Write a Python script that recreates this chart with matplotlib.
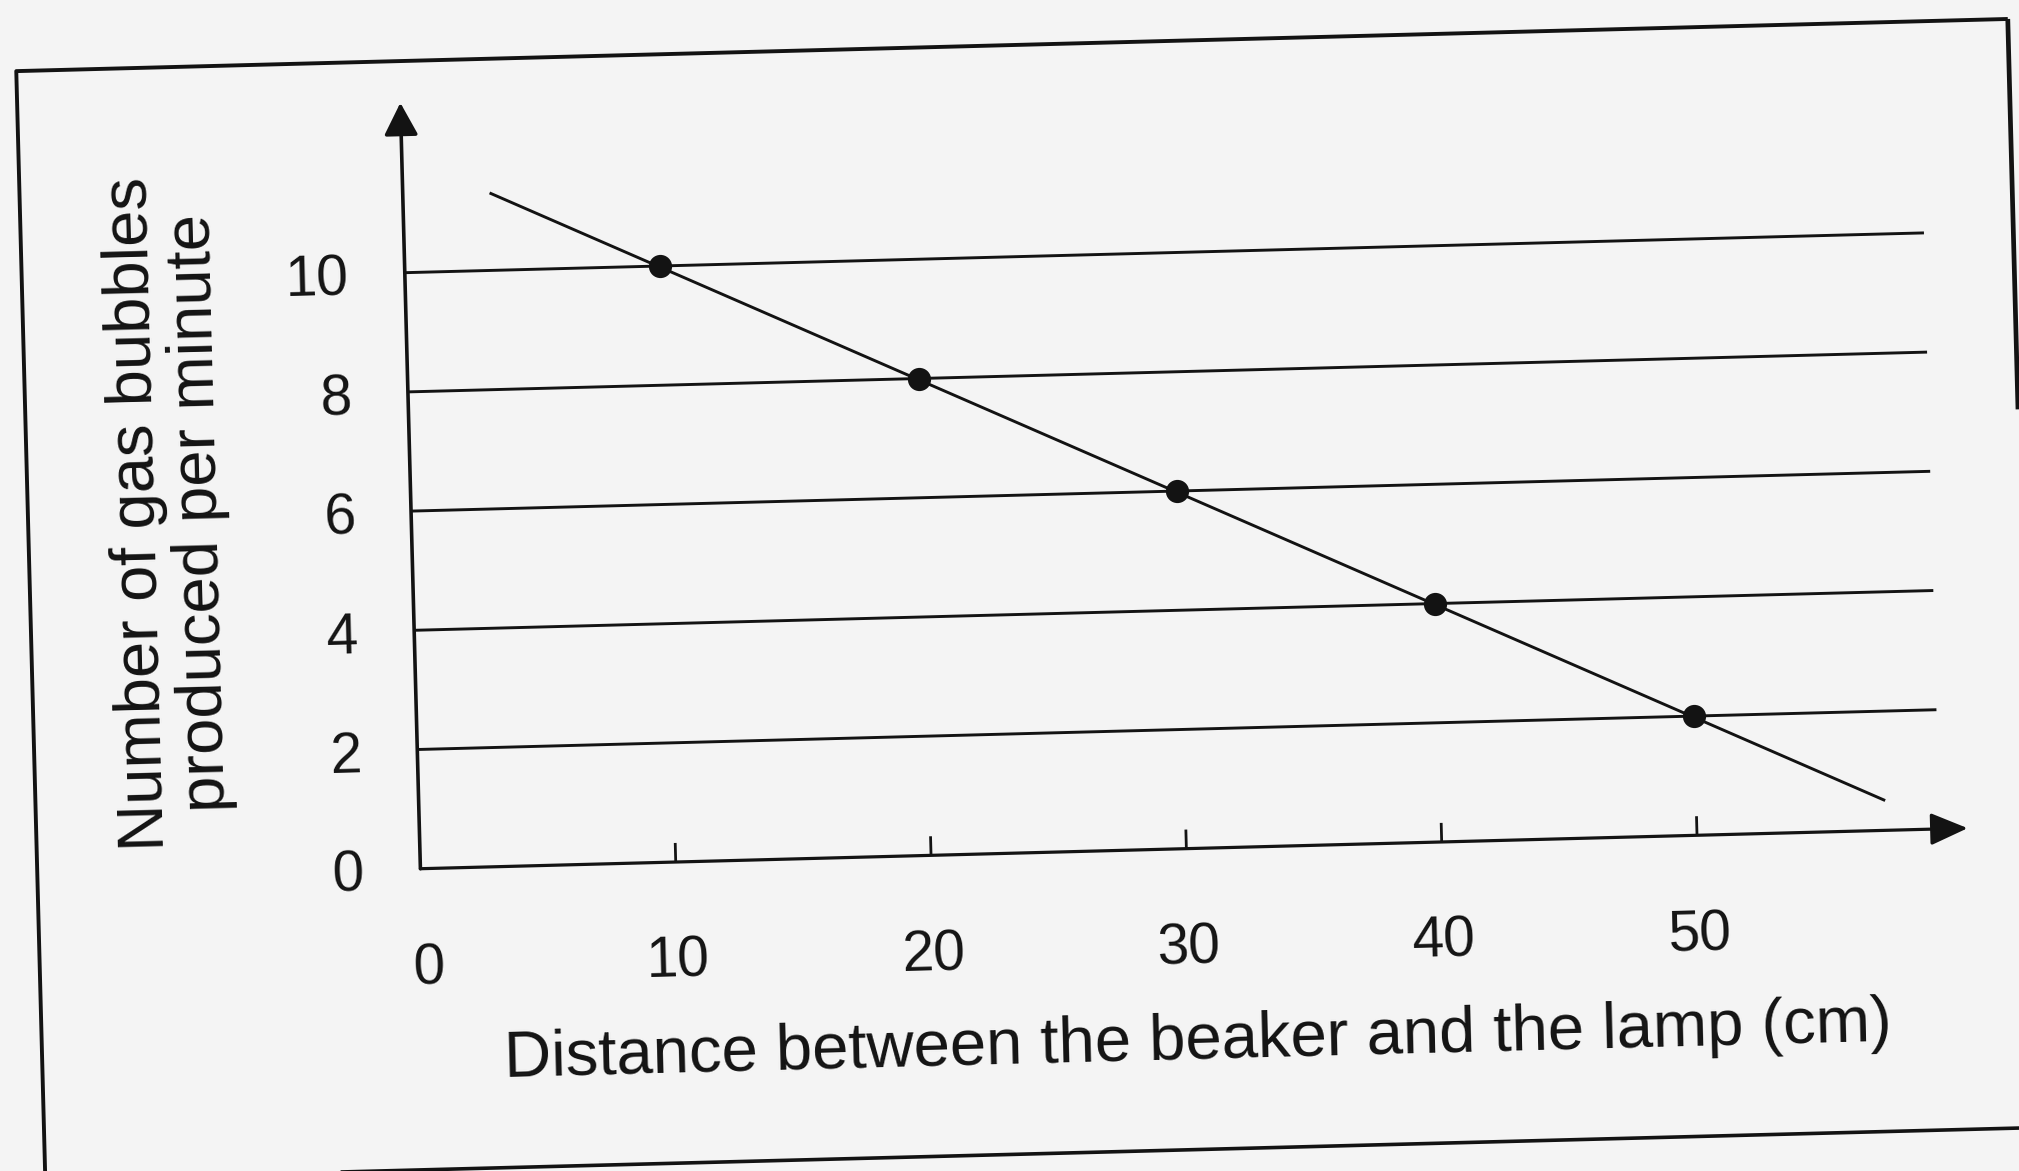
import matplotlib
matplotlib.use("Agg")
import matplotlib.pyplot as plt
from matplotlib.transforms import Affine2D
from matplotlib.patches import FancyArrowPatch, ArrowStyle

plt.rcParams['font.family'] = ['Liberation Sans', 'DejaVu Sans']

# Measurements: distance of the lamp vs. bubbles counted per minute
distance_cm = [10, 20, 30, 40, 50]
bubbles_per_min = [10, 8, 6, 4, 2]

# Hand-drawn line of best fit (end points)
fit_x = [3.4, 57.4]
fit_y = [11.3, 0.5]

x_ticks = [0, 10, 20, 30, 40, 50]
y_ticks = [0, 2, 4, 6, 8, 10]
x_label = "Distance between the beaker and the lamp (cm)"
y_label_lines = ["Number of gas bubbles", "produced per minute"]

INK = '#131313'
PAPER = '#f4f4f4'
TILT = 1.5  # the printed page sits slightly askew

fig = plt.figure(figsize=(20.19, 11.71), dpi=100, facecolor=PAPER)
ax = fig.add_axes([0, 0, 1, 1])
ax.set_axis_off()
ax.set_facecolor(PAPER)
ax.set_xlim(-16.46, 62.59)
ax.set_ylim(-5.07, 14.57)

# Everything is drawn in data units, then tilted about the origin of the axes
ox, oy = ax.transData.transform((0, 0))
T = ax.transData + Affine2D().rotate_deg_around(ox, oy, TILT)

common = dict(transform=T, clip_on=False, solid_capstyle='butt')

# Outer box around the figure
fl, fr, fb, ft = -15.0, 63.0, -5.05, 13.55
ax.plot([fr, fl, fl], [ft, ft, fb], color=INK, lw=2.8, **common)
ax.plot([fl, fr], [fb, fb], color=INK, lw=2.6, **common)
ax.plot([fr, fr], [ft, 7.0], color=INK, lw=3.4, **common)

# Horizontal grid lines
for v in y_ticks[1:]:
    ax.plot([0, 59.5], [v, v], color=INK, lw=2.1, **common)

# Axes with arrow heads
x_arrow = FancyArrowPatch((0, 0), (60.6, 0), transform=T,
                          arrowstyle=ArrowStyle('-|>', head_length=23, head_width=10),
                          mutation_scale=1, shrinkA=0, shrinkB=0,
                          color=INK, lw=2.3, clip_on=False)
y_arrow = FancyArrowPatch((0, 0), (0, 12.85), transform=T,
                          arrowstyle=ArrowStyle('-|>', head_length=20, head_width=10.5),
                          mutation_scale=1, shrinkA=0, shrinkB=0,
                          color=INK, lw=2.6, clip_on=False)
ax.add_patch(x_arrow)
ax.add_patch(y_arrow)

# Small upward tick marks on the x axis
for v in x_ticks[1:]:
    ax.plot([v, v], [0, 0.32], color=INK, lw=2.0, **common)

# Line of best fit and data points
ax.plot(fit_x, fit_y, color=INK, lw=2.1, **common)
ax.plot(distance_cm, bubbles_per_min, linestyle='none', marker='o', ms=15.5,
        mfc=INK, mec=INK, mew=1.2, transform=T, clip_on=False)

# Tick labels
tick_font = dict(fontsize=41, color=INK, transform=T, rotation=TILT,
                 rotation_mode='anchor', clip_on=False)
for v in y_ticks:
    ax.text(-2.2, v - 0.1, str(v), ha='right', va='center', **tick_font)
for v in x_ticks:
    ax.text(v + (0.25 if v == 0 else 0), -1.68, str(v), ha='center', va='center', **tick_font)

# Axis titles
label_font = dict(fontsize=47, color=INK, transform=T, rotation_mode='anchor', clip_on=False)
ax.text(30.25, -3.25, x_label, ha='center', va='center', rotation=TILT, **label_font)
ax.text(-10.68, 6.07, y_label_lines[0], ha='center', va='center', rotation=90 + TILT, **label_font)
ax.text(-8.25, 6.07, y_label_lines[1], ha='center', va='center', rotation=90 + TILT, **label_font)

fig.savefig("out.png", dpi=100, facecolor=PAPER)
